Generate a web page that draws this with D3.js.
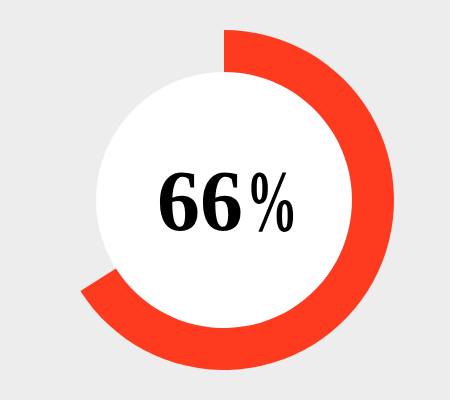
<!DOCTYPE html>
<html>
<head>
<meta charset="utf-8">
<script src="https://cdn.jsdelivr.net/npm/d3@7"></script>
<style>
html,body{margin:0;padding:0;background:#ededed;}
svg{display:block;}
</style>
</head>
<body>
<svg id="chart" width="450" height="400"></svg>
<script>
const value = [66];
const labels = ["66%"];

const svg = d3.select("#chart");
const cx = 224, cy = 200, rInner = 128, rOuter = 170;
const g = svg.append("g").attr("transform", `translate(${cx},${cy})`);

const angle = d3.scaleLinear().domain([0, 100]).range([0, 2 * Math.PI]);

g.append("circle").attr("r", rInner).attr("fill", "#ffffff");

const arc = d3.arc().innerRadius(rInner).outerRadius(rOuter).startAngle(0);
g.selectAll("path.val").data(value).join("path")
  .attr("class", "val")
  .attr("d", d => arc({endAngle: angle(d)}))
  .attr("fill", "#ff3b1f");

const t = g.selectAll("text").data(labels).join("text")
  .attr("x", -67).attr("y", 30)
  .attr("text-anchor", "start")
  .attr("font-family", "'Liberation Serif', 'DejaVu Serif', serif")
  .attr("font-weight", "bold")
  .attr("font-size", 86)
  .attr("fill", "#000");
t.append("tspan").text(d => d.replace("%", ""));
t.append("tspan")
  .attr("dx", 3)
  .attr("textLength", 52)
  .attr("lengthAdjust", "spacingAndGlyphs")
  .text("%");
</script>
</body>
</html>
